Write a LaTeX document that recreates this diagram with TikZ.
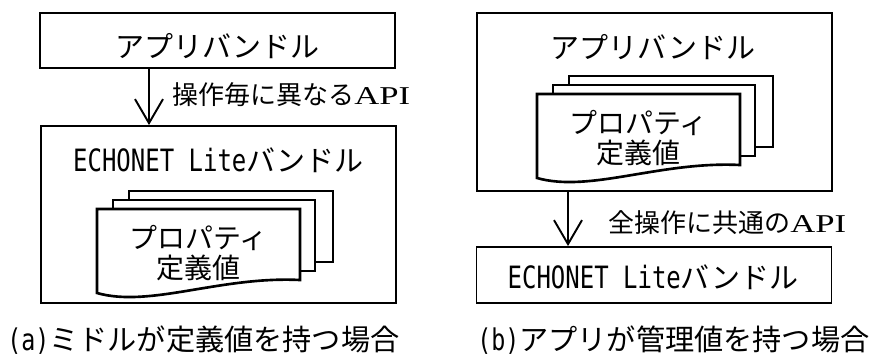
\documentclass[tikz,border=0pt]{standalone}
\usepackage{fontspec}
\usetikzlibrary{arrows.meta}
\newfontfamily\jpfont{Noto Sans CJK JP}
\newfontfamily\hwfont[FakeStretch=0.78]{DejaVu Sans Mono}
\newfontfamily\apifont[FakeStretch=1.35]{Liberation Serif}

\tikzset{
  bundle/.style={draw=black, line width=1.1pt, minimum width=7.1cm},
  sheet/.style={draw=black, fill=white, line width=1.5pt},
  api/.style={-{Straight Barb[length=4.8mm,width=5.6mm]}, line width=1.1pt},
  ttl/.style={font=\fontsize{16.5}{18}\selectfont\jpfont},
  prop/.style={align=center, font=\fontsize{15.9}{17}\selectfont\jpfont},
  lbl/.style={anchor=west, font=\fontsize{14.8}{16}\selectfont\jpfont},
  captxt/.style={anchor=west, font=\fontsize{16.6}{20}\selectfont\jpfont},
}

\begin{document}
\begin{tikzpicture}[scale=0.2]
\tikzstyle{every node}+=[inner sep=0pt]
\useasboundingbox (0,0) rectangle (87.2,-35.8);
% (a) left
\node [bundle, minimum height=1.1cm] (appA) at (21.75,-4.05) {};
\node [ttl] (appAt) at (21.75,-4.6) {アプリバンドル};
\node [bundle, minimum height=3.54cm] (echoA) at (21.85,-21.45) {};
\node [ttl] (echoAt) at (21.85,-16.0) {{\fontsize{17.5}{18}\selectfont\hwfont ECHONET Lite}バンドル};
\draw [sheet] (12.9,-19.1) rectangle (33.3,-26.2);
\draw [sheet] (11.3,-20.0) rectangle (31.5,-27.1);
\draw [sheet] (9.7,-20.9) -- (30.0,-20.9) -- (30.0,-28.0) .. controls (22.0,-27.6) and (15.0,-30.8) .. (9.7,-29.3) -- cycle;
\node [prop] (propA) at (19.85,-25.3) {プロパティ\\定義値};
\coordinate (armA) at (14.9,0);
\draw [api] (appA.south -| armA) -- (echoA.north -| armA);
\node [lbl] (apiA) at (17.2,-9.5) {操作毎に異なる{\fontsize{14.6}{16}\selectfont\apifont API}};
\node [captxt] (capA) at (0.7,-34.0) {{\fontsize{17}{20}\selectfont\hwfont (a)}ミドルが定義値を持つ場合};
% (b) right
\node [bundle, minimum height=3.56cm] (appB) at (65.45,-10.2) {};
\node [ttl] (appBt) at (65.3,-4.7) {アプリバンドル};
\draw [sheet] (56.9,-7.6) rectangle (77.3,-14.7);
\draw [sheet] (55.3,-8.5) rectangle (75.5,-15.6);
\draw [sheet] (53.7,-9.4) -- (74.0,-9.4) -- (74.0,-16.5) .. controls (66.0,-16.1) and (59.0,-19.3) .. (53.7,-17.8) -- cycle;
\node [prop] (propB) at (63.85,-13.8) {プロパティ\\定義値};
\node [bundle, minimum height=1.12cm] (echoB) at (65.4,-27.5) {};
\node [ttl] (echoBt) at (65.3,-27.7) {{\fontsize{17.5}{18}\selectfont\hwfont ECHONET Lite}バンドル};
\coordinate (armB) at (56.8,0);
\draw [api] (appB.south -| armB) -- (echoB.north -| armB);
\node [lbl] (apiB) at (60.8,-22.3) {全操作に共通の{\fontsize{14.6}{16}\selectfont\apifont API}};
\node [captxt] (capB) at (47.7,-34.0) {{\fontsize{17}{20}\selectfont\hwfont (b)}アプリが管理値を持つ場合};
\end{tikzpicture}
\end{document}
